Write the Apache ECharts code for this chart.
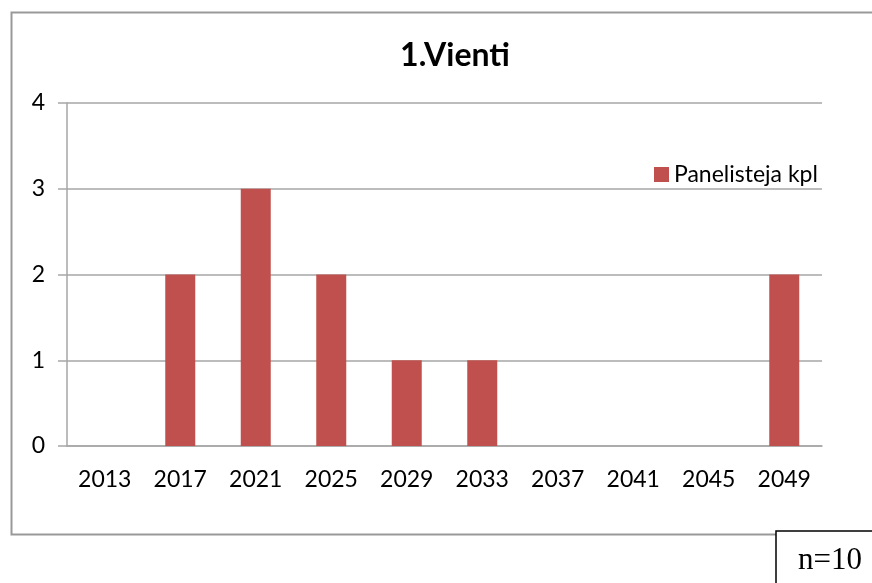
<!DOCTYPE html>
<html>
<head>
<meta charset="utf-8">
<script src="https://cdn.jsdelivr.net/npm/echarts@6/dist/echarts.min.js"></script>
<style>
  html, body { margin: 0; padding: 0; background: #fff; }
  #chart { width: 872px; height: 583px; }
</style>
</head>
<body>
<div id="chart"></div>
<script>
// data
const years = ['2013', '2017', '2021', '2025', '2029', '2033', '2037', '2041', '2045', '2049']
const panelists = [0, 2, 3, 2, 1, 1, 0, 0, 0, 2]
const seriesName = 'Panelisteja kpl'
const titleText = '1.Vienti'
const noteText = 'n=10'

const font = 'Lato, "Open Sans", sans-serif'
const gridColor = '#a6a6a6'

const chart = echarts.init(document.getElementById('chart'))
chart.setOption({
  animation: false,
  title: {
    text: titleText,
    left: 450,
    top: 35,
    textAlign: 'center',
    textStyle: { fontFamily: font, fontSize: 32, fontWeight: 'bold', color: '#000' }
  },
  legend: {
    left: 649,
    top: 158,
    itemWidth: 15,
    itemHeight: 15,
    itemGap: 6,
    icon: 'rect',
    textStyle: { fontFamily: font, fontSize: 23, color: '#000' },
    data: [seriesName]
  },
  grid: { left: 67, right: 50, top: 103, bottom: 137 },
  xAxis: {
    type: 'category',
    data: years,
    axisLine: { lineStyle: { color: gridColor, width: 1.5 } },
    axisTick: { length: 8, lineStyle: { color: gridColor, width: 1.5 } },
    axisLabel: { fontFamily: font, fontSize: 23, color: '#000', margin: 22 }
  },
  yAxis: {
    type: 'value',
    min: 0,
    max: 4,
    interval: 1,
    axisLine: { show: true, lineStyle: { color: gridColor, width: 1.5 } },
    axisTick: { show: true, length: 9, lineStyle: { color: gridColor, width: 1.5 } },
    axisLabel: { fontFamily: font, fontSize: 23, color: '#000', margin: 22 },
    splitLine: { lineStyle: { color: gridColor, width: 1.5 } }
  },
  series: [{
    name: seriesName,
    type: 'bar',
    data: panelists,
    barWidth: 30,
    itemStyle: { color: '#C0504D' }
  }],
  graphic: [
    {
      type: 'rect',
      z: -10,
      shape: { x: 11.5, y: 12.5, width: 900, height: 522 },
      style: { fill: 'none', stroke: '#999', lineWidth: 2 }
    },
    {
      type: 'rect',
      shape: { x: 776, y: 531, width: 120, height: 80 },
      style: { fill: '#fff', stroke: '#000', lineWidth: 1.5 }
    },
    {
      type: 'text',
      x: 830,
      y: 561,
      style: {
        text: noteText,
        fill: '#000',
        font: '31px "Liberation Serif", serif',
        textAlign: 'center',
        textVerticalAlign: 'middle'
      }
    }
  ]
})
</script>
</body>
</html>
